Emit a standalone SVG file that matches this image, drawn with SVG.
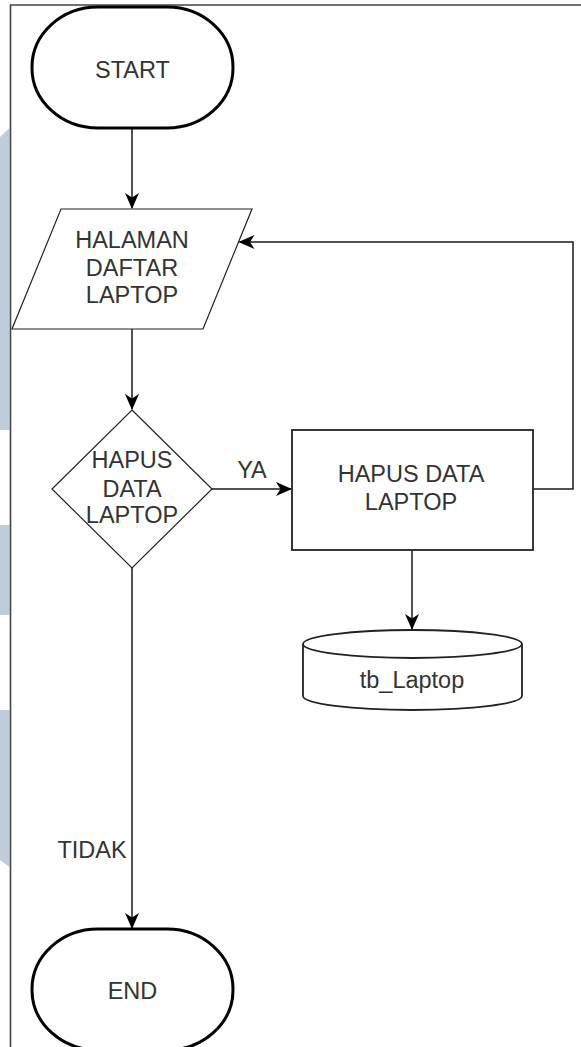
<svg xmlns="http://www.w3.org/2000/svg" width="581" height="1047" viewBox="0 0 581 1047">
  <style>
    .lbl { font-family: "Liberation Sans", Arial, sans-serif; font-size: 23.5px; fill: #333333; text-anchor: middle; }
    .edge { fill: none; stroke: #1a1a1a; stroke-width: 1.5; }
    .term { fill: #ffffff; stroke: #000000; stroke-width: 3; }
    .thin { fill: #ffffff; stroke: #222222; stroke-width: 1.2; }
    .box { fill: #ffffff; stroke: #222222; stroke-width: 1.8; }
    .side { fill: #bfcddb; }
  </style>
  <defs>
    <marker id="arrow" viewBox="0 0 16 14" refX="15" refY="7" markerWidth="16" markerHeight="14" markerUnits="userSpaceOnUse" orient="auto">
      <path d="M0,0 L16,7 L0,14 L4.5,7 Z" fill="#000000"/>
    </marker>
  </defs>
  <rect width="581" height="1047" fill="#ffffff"/>

  <!-- side bands at left margin -->
  <g id="margin">
    <path class="side" d="M0,137 L9.5,128 V430 H0 Z"/>
    <rect class="side" x="0" y="525" width="9.5" height="90"/>
    <path class="side" d="M0,710 H9.5 V867 L0,860 Z"/>
  </g>

  <!-- page frame -->
  <path d="M10.5,1047 V5 H581" fill="none" stroke="#444444" stroke-width="1.6"/>

  <!-- connectors -->
  <g id="connectors">
    <path class="edge" d="M132,128 V208" marker-end="url(#arrow)"/>
    <path class="edge" d="M132,329 V409" marker-end="url(#arrow)"/>
    <path class="edge" d="M212,489 H291" marker-end="url(#arrow)"/>
    <path class="edge" d="M533,489 H573 V242 H239.5" marker-end="url(#arrow)"/>
    <path class="edge" d="M412,550 V629" marker-end="url(#arrow)"/>
    <path class="edge" d="M132,568 V928" marker-end="url(#arrow)"/>
    <text class="lbl" x="252" y="478">YA</text>
    <text class="lbl" x="92" y="858">TIDAK</text>
  </g>

  <g id="start">
    <rect class="term" x="32" y="7" width="201" height="121" rx="66" ry="60"/>
    <text class="lbl" x="132.5" y="78">START</text>
  </g>

  <g id="halaman-daftar-laptop">
    <polygon class="thin" points="61,209 252,209 203,329 12,329"/>
    <text class="lbl" x="132" y="248">HALAMAN</text>
    <text class="lbl" x="132" y="276">DAFTAR</text>
    <text class="lbl" x="132" y="303">LAPTOP</text>
  </g>

  <g id="hapus-decision">
    <polygon class="thin" points="132,410 212,489 132,568 52,489"/>
    <text class="lbl" x="132" y="468">HAPUS</text>
    <text class="lbl" x="132" y="497">DATA</text>
    <text class="lbl" x="132" y="523">LAPTOP</text>
  </g>

  <g id="hapus-data-laptop">
    <rect class="box" x="292" y="430" width="241" height="120"/>
    <text class="lbl" x="411" y="482">HAPUS DATA</text>
    <text class="lbl" x="411" y="510">LAPTOP</text>
  </g>

  <g id="tb-laptop">
    <path class="box" d="M303,644 A109.5,14 0 0 1 522,644 V696 A109.5,14 0 0 1 303,696 Z"/>
    <path class="box" fill="none" d="M303,644 A109.5,14 0 0 0 522,644"/>
    <text class="lbl" x="412" y="688">tb_Laptop</text>
  </g>

  <g id="end">
    <rect class="term" x="32" y="929" width="201" height="121" rx="66" ry="60"/>
    <text class="lbl" x="132.5" y="999">END</text>
  </g>
</svg>
